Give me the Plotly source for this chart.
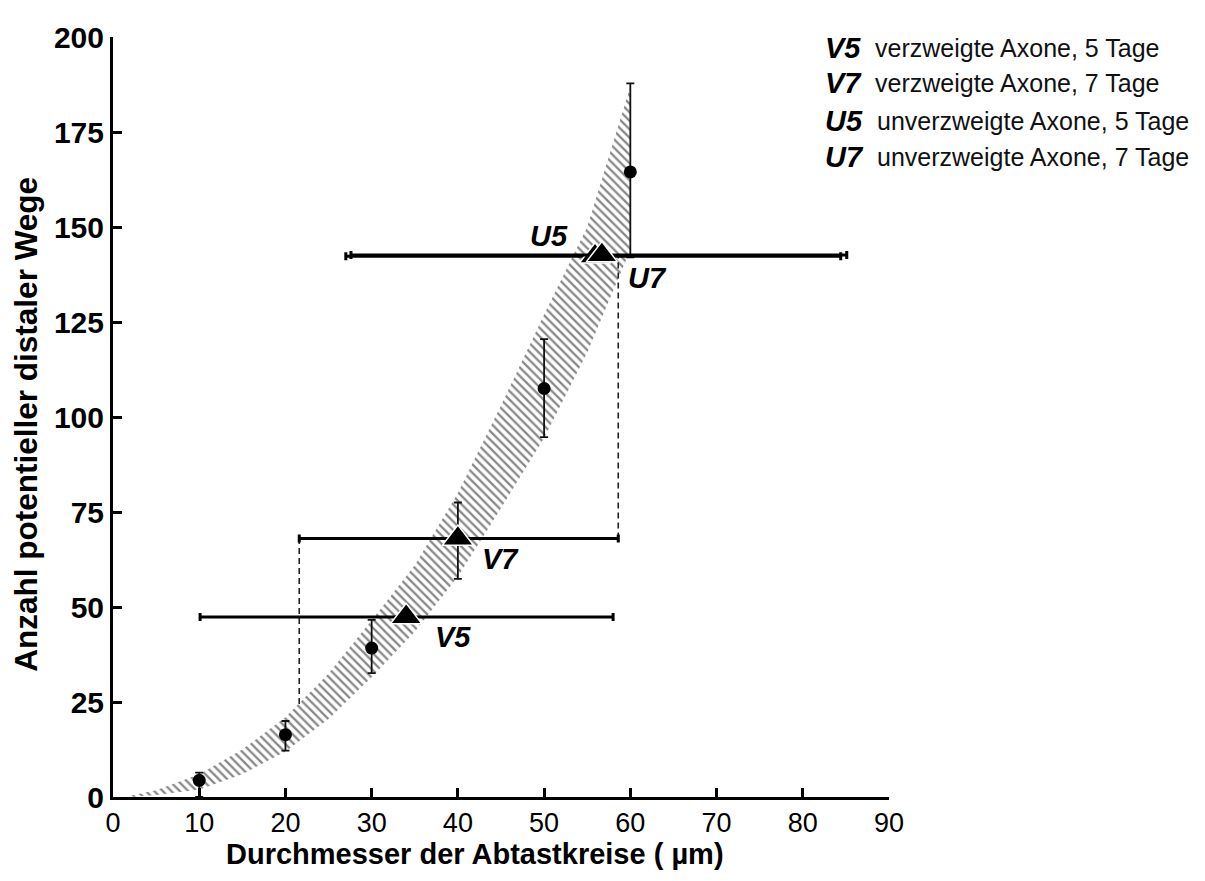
import plotly.graph_objects as go

# ---- data ----
band_x = [2, 5, 10, 15, 20, 25, 30, 35, 40, 45, 50, 55, 60]
band_upper = [0.3, 1.8, 6.0, 12.5, 21.0, 32.5, 46.5, 61.0, 80.0, 103.0, 127.0, 150.0, 187.0]
band_lower = [0.0, 0.5, 2.0, 6.0, 12.0, 20.5, 31.5, 43.5, 58.0, 76.0, 94.5, 117.0, 144.0]

pt_x = [10, 20, 30, 50, 60]
pt_y = [4.4, 16.4, 39.2, 107.5, 164.5]
pt_err_plus = [2.0, 3.6, 7.4, 13.0, 23.3]
pt_err_minus = [4.4, 4.2, 6.6, 12.8, 22.5]

tri_names = ["V5", "V7", "U5", "U7"]
tri_x = [34.0, 40.0, 55.9, 56.7]
tri_y = [47.4, 68.0, 142.3, 142.6]
tri_x_low = [10.1, 21.6, 27.0, 27.6]
tri_x_high = [58.0, 58.6, 84.4, 85.1]
tri_y_plus = [0.0, 9.5, 0.0, 0.0]
tri_y_minus = [0.0, 10.6, 0.0, 0.0]

drop1_x = [21.6, 21.6]
drop1_y = [24.5, 68.0]
drop2_x = [58.6, 58.6]
drop2_y = [68.0, 142.5]

lab_names = ["U5", "U7", "V7", "V5"]
lab_x = [50.6, 62.0, 44.9, 39.4]
lab_y = [147.6, 136.6, 62.6, 42.0]

leg_keys = ["V5", "V7", "U5", "U7"]
leg_texts = ["verzweigte Axone, 5 Tage", "verzweigte Axone, 7 Tage",
             "unverzweigte Axone, 5 Tage", "unverzweigte Axone, 7 Tage"]
leg_y = [197.0, 187.8, 177.8, 168.3]

x_ticks = [0, 10, 20, 30, 40, 50, 60, 70, 80, 90]
y_ticks = [0, 25, 50, 75, 100, 125, 150, 175, 200]

FONT = "Liberation Sans, Arial, sans-serif"

fig = go.Figure()

# hatched band
fig.add_trace(go.Scatter(x=band_x, y=band_lower, mode="lines",
                         line=dict(width=0, color="rgba(0,0,0,0)"),
                         showlegend=False, hoverinfo="skip"))
fig.add_trace(go.Scatter(x=band_x, y=band_upper, mode="lines",
                         line=dict(width=0, color="rgba(0,0,0,0)"),
                         fill="tonexty", fillcolor="rgba(0,0,0,0)",
                         fillpattern=dict(shape="\\", fgcolor="#111111",
                                          bgcolor="rgba(255,255,255,0)",
                                          size=6, solidity=0.38),
                         showlegend=False, hoverinfo="skip"))

# dashed drop lines
for dx, dy in [(drop1_x, drop1_y), (drop2_x, drop2_y)]:
    fig.add_trace(go.Scatter(x=dx, y=dy, mode="lines",
                             line=dict(color="#222222", width=1.6, dash="6px,4px"),
                             showlegend=False, hoverinfo="skip"))

# circles with vertical error bars
fig.add_trace(go.Scatter(x=pt_x, y=pt_y, mode="markers",
                         marker=dict(symbol="circle", size=13, color="black"),
                         error_y=dict(type="data", symmetric=False,
                                      array=pt_err_plus, arrayminus=pt_err_minus,
                                      color="#111111", thickness=1.8, width=4),
                         showlegend=False))

# triangles with horizontal error bars
for i in range(len(tri_names)):
    fig.add_trace(go.Scatter(
        x=[tri_x[i]], y=[tri_y[i]], mode="markers",
        marker=dict(symbol="triangle-up", size=27, color="black",
                    line=dict(color="white", width=1.5)),
        error_x=dict(type="data", symmetric=False,
                     array=[tri_x_high[i] - tri_x[i]],
                     arrayminus=[tri_x[i] - tri_x_low[i]],
                     color="black", thickness=3, width=4),
        error_y=dict(type="data", symmetric=False,
                     array=[tri_y_plus[i]], arrayminus=[tri_y_minus[i]],
                     color="#111111", thickness=1.8, width=4,
                     visible=tri_y_plus[i] > 0),
        showlegend=False, name=tri_names[i]))

annotations = []
for n, x, y in zip(lab_names, lab_x, lab_y):
    annotations.append(dict(x=x, y=y, xref="x", yref="y", text=f"<b><i>{n}</i></b>",
                            showarrow=False, font=dict(family=FONT, size=29, color="black")))

for k, t, y in zip(leg_keys, leg_texts, leg_y):
    annotations.append(dict(x=82.35, y=y, xref="x", yref="y", text=f"<b><i>{k}</i></b>",
                            xanchor="left", yanchor="middle", showarrow=False,
                            font=dict(family=FONT, size=29, color="black")))
    annotations.append(dict(x=88.1 if k.startswith("V") else 88.4, y=y, xref="x", yref="y",
                            text=t, xanchor="left", yanchor="middle", showarrow=False,
                            font=dict(family=FONT, size=25, color="#111111")))

annotations.append(dict(x=0.4665, y=-0.0755, xref="paper", yref="paper",
                        text="<b>Durchmesser der Abtastkreise ( µm)</b>",
                        showarrow=False, xanchor="center", yanchor="middle",
                        font=dict(family=FONT, size=29, color="black")))
annotations.append(dict(x=-0.112, y=0.49, xref="paper", yref="paper",
                        text="<b>Anzahl potentieller distaler Wege</b>", textangle=-90,
                        showarrow=False, xanchor="center", yanchor="middle",
                        font=dict(family=FONT, size=31.5, color="black")))

# page body has an 8px margin: plot area wanted at x 113..889, y 30..797 in the window
fig.update_layout(
    width=1188, height=864,
    margin=dict(l=105, r=307, t=22, b=75),
    paper_bgcolor="white", plot_bgcolor="white",
    annotations=annotations,
    showlegend=False,
)
fig.update_xaxes(range=[0, 90], tickvals=x_ticks, ticktext=[str(v) for v in x_ticks],
                 showgrid=False, zeroline=False, showline=True, linecolor="black",
                 linewidth=3, ticks="inside", ticklen=9, tickwidth=2.5, tickcolor="black",
                 ticklabelstandoff=0,
                 tickfont=dict(family=FONT, size=27, color="black"))
fig.update_yaxes(range=[0, 200], tickvals=y_ticks, ticktext=[str(v) for v in y_ticks],
                 showgrid=False, zeroline=False, showline=True, linecolor="black",
                 linewidth=3, ticks="inside", ticklen=9, tickwidth=2.5, tickcolor="black",
                 tickfont=dict(family=FONT, size=30, color="black", weight="bold"))

fig.write_html("out.html")
